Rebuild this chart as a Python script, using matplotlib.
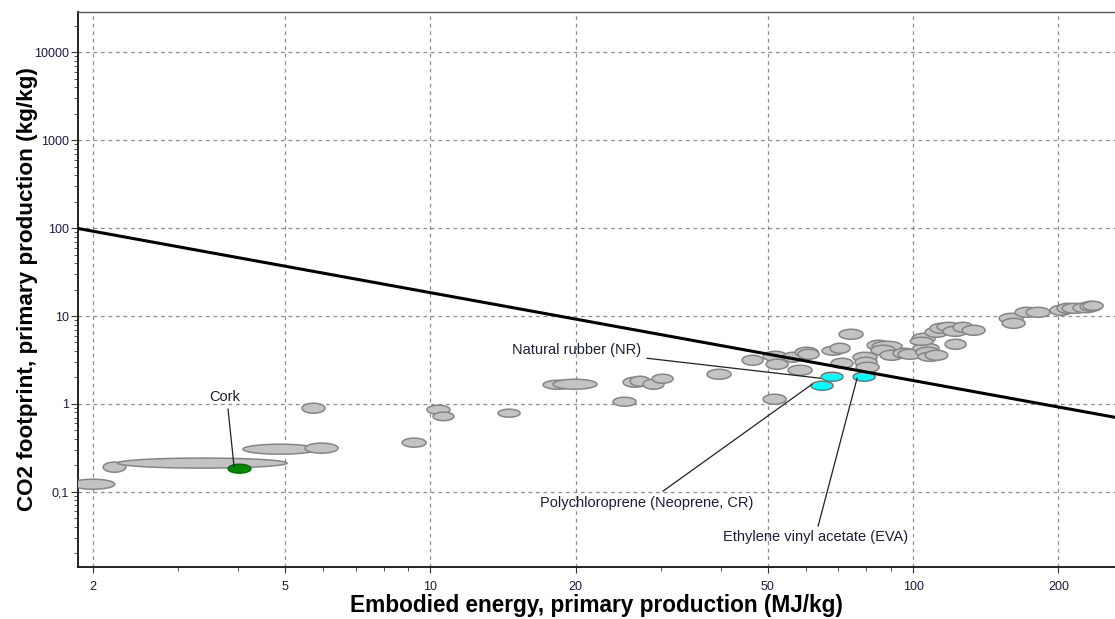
"""CO2 footprint vs embodied energy (log-log bubble chart, CES-style ranges)."""

import matplotlib

matplotlib.use("Agg")
import matplotlib.pyplot as plt
import numpy as np
from matplotlib.ticker import FixedLocator, FuncFormatter, LogLocator, NullFormatter

plt.rcParams["font.family"] = ["Liberation Sans", "DejaVu Sans"]

# background materials: embodied energy range (MJ/kg) and CO2 range (kg/kg)
GRAY_E_LO = [1.80, 2.10, 2.25, 4.09, 5.50, 5.42, 8.74, 9.84, 10.13, 13.81,
             17.12, 17.96, 23.90, 25.07, 25.93, 27.58, 28.80, 37.43, 44.24, 48.91,
             48.91, 49.61, 53.81, 55.10, 56.95, 57.77, 64.79, 67.31, 67.64, 70.26,
             75.10, 75.83, 76.20, 80.31, 82.26, 81.80, 85.43, 90.88, 93.11, 99.50,
             100.0, 101.4, 102.4, 98.60, 106.0, 105.9, 108.4, 112.1, 115.4, 116.5,
             121.0, 126.4, 150.8, 152.9, 162.7, 171.5, 192.2, 198.8, 203.6, 214.5,
             221.8, 225.0]
GRAY_E_HI = [2.22, 2.34, 5.05, 5.83, 6.44, 6.05, 9.80, 10.98, 11.19, 15.34,
             19.76, 22.15, 26.68, 28.11, 28.52, 30.49, 31.83, 41.98, 48.91, 54.58,
             54.83, 55.10, 58.90, 61.77, 63.58, 63.88, 71.95, 74.03, 75.10, 78.77,
             84.23, 84.23, 85.03, 89.65, 94.90, 91.80, 95.35, 101.4, 104.4, 111.1,
             113.2, 113.7, 114.8, 110.0, 118.0, 118.1, 121.0, 125.1, 129.4, 128.8,
             133.1, 141.0, 169.0, 170.6, 181.5, 192.2, 213.5, 219.7, 229.4, 241.6,
             246.4, 247.6]
GRAY_C_LO = [0.107, 0.167, 0.186, 0.268, 0.275, 0.784, 0.322, 0.764, 0.645, 0.706,
             1.469, 1.469, 0.942, 1.548, 1.590, 1.469, 1.719, 1.909, 2.754, 0.992,
             3.056, 2.479, 2.978, 2.119, 3.394, 3.221, 3.580, 3.768, 2.545, 5.436,
             2.978, 2.612, 2.292, 4.076, 3.971, 3.576, 3.138, 3.306, 3.221, 4.800,
             3.768, 3.394, 3.056, 4.645, 3.138, 5.728, 6.360, 6.701, 5.880, 4.184,
             6.529, 6.035, 8.260, 7.248, 9.666, 9.666, 10.18, 10.73, 10.73, 10.90,
             11.31, 11.61]
GRAY_C_HI = [0.139, 0.218, 0.242, 0.348, 0.358, 1.018, 0.408, 0.967, 0.805, 0.871,
             1.859, 1.909, 1.191, 2.011, 2.064, 1.909, 2.175, 2.479, 3.576, 1.289,
             3.971, 3.221, 3.868, 2.754, 4.409, 4.184, 4.520, 4.896, 3.306, 7.061,
             3.868, 3.394, 2.978, 5.297, 5.160, 4.645, 4.076, 4.295, 4.184, 6.360,
             4.896, 4.409, 3.868, 5.728, 4.076, 7.440, 8.260, 8.480, 7.638, 5.436,
             8.480, 7.840, 10.73, 9.417, 12.56, 12.56, 13.23, 13.94, 13.94, 14.10,
             14.69, 14.69]

# cork (green)
CORK_E = [3.81, 4.25]
CORK_C = [0.163, 0.206]

# highlighted elastomers (cyan)
CYAN_NAMES = ["Natural rubber (NR)", "Polychloroprene (Neoprene, CR)",
              "Ethylene vinyl acetate (EVA)"]
CYAN_E_LO = [64.48, 61.47, 75.10]
CYAN_E_HI = [71.61, 68.29, 83.43]
CYAN_C_LO = [1.811, 1.431, 1.811]
CYAN_C_HI = [2.292, 1.811, 2.292]

# labels: text position, leader start, leader end (data coords)
LABEL_TEXT = ["Cork"] + CYAN_NAMES
LABEL_X = [3.756, 20.13, 28.11, 62.66]
LABEL_Y = [1.19, 4.08, 0.0744, 0.0306]
LEADER_X0 = [3.81, 28.11, 30.35, 63.58]
LEADER_Y0 = [0.871, 3.306, 0.1019, 0.0408]
LEADER_X1 = [3.92, 64.2, 61.77, 76.56]
LEADER_Y1 = [0.195, 1.96, 1.675, 1.959]

# guide line (constant E x CO2)
GUIDE_E = [1.863, 262.0]
GUIDE_C = [99.0, 0.704]

X_MAJOR = [2, 5, 10, 20, 50, 100, 200]
Y_MAJOR = [0.01, 0.1, 1, 10, 100, 1000, 10000]
Y_LABELS = {0.1: "0,1", 1: "1", 10: "10", 100: "100", 1000: "1000", 10000: "10000"}


def ellipse_path(e_lo, e_hi, c_lo, c_hi, n=80):
    """Ellipse spanning the ranges, drawn in log space."""
    t = np.linspace(0, 2 * np.pi, n)
    lx0, lx1 = np.log10(e_lo), np.log10(e_hi)
    ly0, ly1 = np.log10(c_lo), np.log10(c_hi)
    cx, rx = (lx0 + lx1) / 2, (lx1 - lx0) / 2
    cy, ry = (ly0 + ly1) / 2, (ly1 - ly0) / 2
    return 10 ** (cx + rx * np.cos(t)), 10 ** (cy + ry * np.sin(t))


fig = plt.figure(figsize=(11.15, 6.19), dpi=100)
ax = fig.add_axes([0.070, 0.0845, 0.930, 0.896])
ax.set_xscale("log")
ax.set_yscale("log")
ax.set_xlim(1.863, 262)
ax.set_ylim(0.01406, 28700)

ax.grid(True, which="major", color="#8c8c8c", linestyle=(0, (3, 3)), linewidth=0.9)
ax.set_axisbelow(True)

for lo, hi, clo, chi in zip(GRAY_E_LO, GRAY_E_HI, GRAY_C_LO, GRAY_C_HI):
    xs, ys = ellipse_path(lo, hi, clo, chi)
    ax.fill(xs, ys, facecolor="#c3c3c3", edgecolor="#858585", linewidth=1.1, zorder=3)

xs, ys = ellipse_path(CORK_E[0], CORK_E[1], CORK_C[0], CORK_C[1])
ax.fill(xs, ys, facecolor="#008a00", edgecolor="#006a00", linewidth=1.0, zorder=4)

for lo, hi, clo, chi in zip(CYAN_E_LO, CYAN_E_HI, CYAN_C_LO, CYAN_C_HI):
    xs, ys = ellipse_path(lo, hi, clo, chi)
    ax.fill(xs, ys, facecolor="#00ffff", edgecolor="#7a6a6a", linewidth=1.0, zorder=4)

ax.plot(GUIDE_E, GUIDE_C, color="black", linewidth=2.2, zorder=5)

for txt, tx, ty, x0, y0, x1, y1 in zip(LABEL_TEXT, LABEL_X, LABEL_Y, LEADER_X0,
                                       LEADER_Y0, LEADER_X1, LEADER_Y1):
    ax.plot([x0, x1], [y0, y1], color="#202020", linewidth=0.9, zorder=6)
    ax.text(tx, ty, txt, ha="center", va="center", fontsize=10.5, color="#1c1c3c",
            zorder=7)

ax.xaxis.set_major_locator(FixedLocator(X_MAJOR))
ax.xaxis.set_major_formatter(FuncFormatter(lambda v, p: f"{v:g}"))
ax.xaxis.set_minor_locator(LogLocator(base=10, subs=np.arange(2, 10), numticks=20))
ax.xaxis.set_minor_formatter(NullFormatter())
ax.yaxis.set_major_locator(FixedLocator(Y_MAJOR))
ax.yaxis.set_major_formatter(FuncFormatter(lambda v, p: Y_LABELS.get(round(v, 3), "")))
ax.yaxis.set_minor_locator(LogLocator(base=10, subs=np.arange(2, 10), numticks=20))
ax.yaxis.set_minor_formatter(NullFormatter())

ax.tick_params(axis="both", which="major", labelsize=9, labelcolor="#1a1a48",
               color="#333333", direction="out")
ax.tick_params(axis="x", which="major", length=4, pad=6)
ax.tick_params(axis="y", which="major", length=5, pad=1.5)
ax.tick_params(axis="both", which="minor", length=3, color="#333333")

for side in ("left", "bottom"):
    ax.spines[side].set_color("#222222")
    ax.spines[side].set_linewidth(1.4)
ax.spines["top"].set_color("#555555")
ax.spines["top"].set_linewidth(1.0)
ax.spines["right"].set_visible(False)

ax.set_xlabel("Embodied energy, primary production (MJ/kg)", fontsize=16.3,
              fontweight="bold")
ax.set_ylabel("CO2 footprint, primary production (kg/kg)", fontsize=16.2,
              fontweight="bold")
ax.xaxis.set_label_coords(0.5, -0.049)
ax.yaxis.set_label_coords(-0.0386, 0.5)

fig.savefig("out.png", dpi=100)
